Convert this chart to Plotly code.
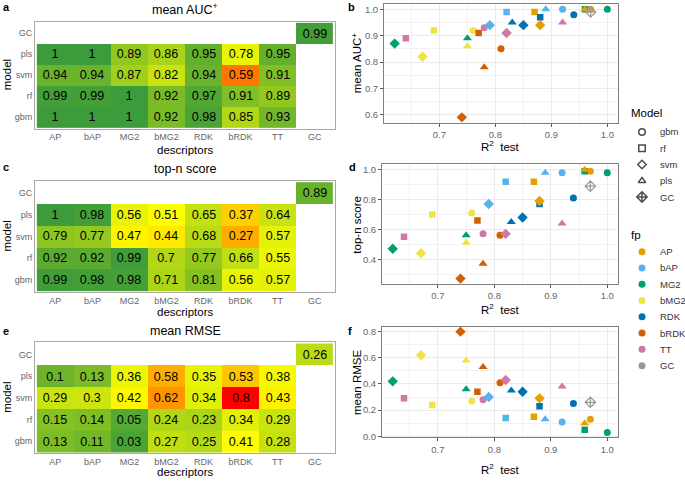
import plotly.graph_objects as go

# ---------------- data ----------------
descriptors = ["AP", "bAP", "MG2", "bMG2", "RDK", "bRDK", "TT", "GC"]
fps = ["AP", "bAP", "MG2", "bMG2", "RDK", "bRDK", "TT"]
models = ["gbm", "rf", "svm", "pls"]            # bottom -> top in heatmaps
model_rows = ["gbm", "rf", "svm", "pls", "GC"]
legend_models = ["gbm", "rf", "svm", "pls", "GC"]

# mean AUC+  (rows: gbm, rf, svm, pls ; cols: AP..TT)
auc_gbm = [1, 1, 1, 0.92, 0.98, 0.85, 0.93]
auc_rf = [0.99, 0.99, 1, 0.92, 0.97, 0.91, 0.89]
auc_svm = [0.94, 0.94, 0.87, 0.82, 0.94, 0.59, 0.91]
auc_pls = [1, 1, 0.89, 0.86, 0.95, 0.78, 0.95]
auc_gc = 0.99

# top-n score
top_gbm = [0.99, 0.98, 0.98, 0.71, 0.81, 0.56, 0.57]
top_rf = [0.92, 0.92, 0.99, 0.7, 0.77, 0.66, 0.55]
top_svm = [0.79, 0.77, 0.47, 0.44, 0.68, 0.27, 0.57]
top_pls = [1, 0.98, 0.56, 0.51, 0.65, 0.37, 0.64]
top_gc = 0.89

# mean RMSE
rmse_gbm = [0.13, 0.11, 0.03, 0.27, 0.25, 0.41, 0.28]
rmse_rf = [0.15, 0.14, 0.05, 0.24, 0.23, 0.34, 0.29]
rmse_svm = [0.29, 0.3, 0.42, 0.62, 0.34, 0.8, 0.43]
rmse_pls = [0.1, 0.13, 0.36, 0.58, 0.35, 0.53, 0.38]
rmse_gc = 0.26

# R2 test
r2_gbm = [0.97, 0.92, 1.0, 0.76, 0.94, 0.81, 0.78]
r2_rf = [0.87, 0.82, 0.96, 0.69, 0.88, 0.77, 0.64]
r2_svm = [0.88, 0.79, 0.62, 0.67, 0.85, 0.74, 0.82]
r2_pls = [0.96, 0.89, 0.75, 0.75, 0.83, 0.78, 0.92]
r2_gc = 0.97

fp_colors = {"AP": "#E69F00", "bAP": "#56B4E9", "MG2": "#009E73", "bMG2": "#F0E442",
             "RDK": "#0072B2", "bRDK": "#D55E00", "TT": "#CC79A7", "GC": "#999999"}
model_symbols = {"gbm": "circle", "rf": "square", "svm": "diamond", "pls": "triangle-up"}
legend_symbols = {"gbm": "circle-open", "rf": "square-open", "svm": "diamond-open",
                  "pls": "triangle-up-open", "GC": "diamond-cross-open"}

auc = {"gbm": auc_gbm, "rf": auc_rf, "svm": auc_svm, "pls": auc_pls}
top = {"gbm": top_gbm, "rf": top_rf, "svm": top_svm, "pls": top_pls}
rmse = {"gbm": rmse_gbm, "rf": rmse_rf, "svm": rmse_svm, "pls": rmse_pls}
r2 = {"gbm": r2_gbm, "rf": r2_rf, "svm": r2_svm, "pls": r2_pls}

W, H = 685, 482
FONT = "Liberation Sans, Arial, sans-serif"

def px_x(a, b):
    return [a / W, b / W]

def px_y(top_, bottom):
    return [1 - bottom / H, 1 - top_ / H]

scale = [[0, "#FF0000"], [0.25, "#FFA500"], [0.5, "#FFFF00"], [1, "#3C9B3A"]]
scale_rev = [[1 - p, c] for p, c in reversed(scale)]

def build_z(d, gc):
    z = []
    for m in models:
        z.append(list(d[m]) + [None])
    z.append([None] * 7 + [gc])
    return z

def fmt(v):
    return "" if v is None else f"{v:g}"

fig = go.Figure()

heat_specs = [
    ("x", "y", auc, auc_gc, 0.5, 1.0, scale),
    ("x3", "y3", top, top_gc, 0.0, 1.0, scale),
    ("x5", "y5", rmse, rmse_gc, 0.0, 0.8, scale_rev),
]
for xa, ya, d, gc, zmin, zmax, cs in heat_specs:
    z = build_z(d, gc)
    text = [[fmt(v) for v in row] for row in z]
    fig.add_trace(go.Heatmap(
        x=descriptors, y=model_rows, z=z, text=text, texttemplate="%{text}",
        textfont=dict(size=12.5, color="black", family=FONT),
        colorscale=cs, zmin=zmin, zmax=zmax, showscale=False,
        xaxis=xa, yaxis=ya, hoverinfo="skip", xgap=0, ygap=0))

scatter_specs = [("x2", "y2", auc, auc_gc), ("x4", "y4", top, top_gc), ("x6", "y6", rmse, rmse_gc)]
marker_sizes = {"gbm": 7, "rf": 6.5, "svm": 8, "pls": 8}
for xa, ya, d, gc in scatter_specs:
    for m in models:
        fig.add_trace(go.Scatter(
            x=r2[m], y=d[m], mode="markers", xaxis=xa, yaxis=ya, showlegend=False,
            marker=dict(symbol=model_symbols[m], size=marker_sizes[m],
                        color=[fp_colors[f] for f in fps], line=dict(width=0)),
            hoverinfo="skip"))
    fig.add_trace(go.Scatter(
        x=[r2_gc], y=[gc], mode="markers", xaxis=xa, yaxis=ya, showlegend=False,
        marker=dict(symbol="diamond-cross-open", size=8, color=fp_colors["GC"],
                    line=dict(width=1.2, color=fp_colors["GC"])),
        hoverinfo="skip"))

# ---- legend (drawn on a small side axis measured in pixels) ----
LEG_LEFT, LEG_TOP, LEG_BOTTOM = 620, 100, 380
LEG_KEY_X, LEG_TXT_X, LEG_TITLE_X = 642, 658, 629
MODEL_TITLE_Y, MODEL_Y0 = 113, 132.3
FP_TITLE_Y, FP_Y0 = 236, 253.3
STEP = 16.45
model_key_y = [MODEL_Y0 + i * STEP for i in range(len(legend_models))]
fp_key_y = [FP_Y0 + i * STEP for i in range(len(descriptors))]

fig.add_trace(go.Scatter(
    x=[LEG_KEY_X] * len(legend_models), y=model_key_y, mode="markers",
    xaxis="x7", yaxis="y7", showlegend=False, hoverinfo="skip",
    marker=dict(symbol=[legend_symbols[m] for m in legend_models],
                size=[6.5, 6.5, 6.5, 6.5, 8], color="black",
                line=dict(width=1.5, color="black"))))
fig.add_trace(go.Scatter(
    x=[LEG_KEY_X] * len(descriptors), y=fp_key_y, mode="markers",
    xaxis="x7", yaxis="y7", showlegend=False, hoverinfo="skip",
    marker=dict(symbol="circle", size=7, color=[fp_colors[f] for f in descriptors])))

heat_axis = dict(showgrid=False, zeroline=False, showline=True, mirror=True,
                 linecolor="#A8A8A8", linewidth=1, ticks="",
                 tickfont=dict(size=9, color="#666666", family=FONT))

scat_common = dict(showgrid=True, gridcolor="#EBEBEB", gridwidth=1, zeroline=False,
                   showline=True, mirror=True, linecolor="#7F7F7F", linewidth=1,
                   ticks="outside", ticklen=3, tickcolor="#555555",
                   tickfont=dict(size=9.5, color="#666666", family=FONT))

xt = [0.7, 0.8, 0.9, 1.0]
xminor = dict(tickvals=[0.65, 0.75, 0.85, 0.95], showgrid=True, gridcolor="#F2F2F2",
              gridwidth=0.6, ticks="")

layout = dict(
    width=W, height=H, margin=dict(l=0, r=0, t=0, b=0),
    paper_bgcolor="white", plot_bgcolor="rgba(0,0,0,0)", showlegend=False,
    font=dict(family=FONT, color="black"),
)
# heatmaps
for i, (ytop, ybot) in zip(["", "3", "5"], [(21, 129), (182, 294), (345, 457)]):
    layout["xaxis" + i] = dict(heat_axis, domain=px_x(35, 335), anchor="y" + i,
                               type="category", categoryorder="array",
                               categoryarray=descriptors, range=[-0.55, 7.55])
    layout["yaxis" + i] = dict(heat_axis, domain=px_y(ytop, ybot), anchor="x" + i,
                               type="category", categoryorder="array",
                               categoryarray=model_rows, range=[-0.55, 4.55])
# scatters
scat_pos = [("2", 384, 3, 123, [0.5695, 1.0205], [0.6, 0.7, 0.8, 0.9, 1.0], [0.65, 0.75, 0.85, 0.95]),
            ("4", 382, 165, 286, [0.2335, 1.0365], [0.4, 0.6, 0.8, 1.0], [0.3, 0.5, 0.7, 0.9]),
            ("6", 382, 329, 441, [-0.0085, 0.8385], [0.0, 0.2, 0.4, 0.6, 0.8], [0.1, 0.3, 0.5, 0.7])]
for i, xl, yt, yb, yr, yticks, yminor in scat_pos:
    layout["xaxis" + i] = dict(scat_common, domain=px_x(xl, 618), anchor="y" + i,
                               range=[0.601, 1.019], tickvals=xt,
                               ticktext=[f"{v:.1f}" for v in xt], minor=xminor)
    layout["yaxis" + i] = dict(scat_common, domain=px_y(yt, yb), anchor="x" + i,
                               range=yr, tickvals=yticks,
                               ticktext=[f"{v:.1f}" for v in yticks],
                               minor=dict(xminor, tickvals=yminor))
# pixel axis for the legend keys
layout["xaxis7"] = dict(domain=px_x(LEG_LEFT, W), range=[LEG_LEFT, W], visible=False,
                        fixedrange=True, anchor="y7")
layout["yaxis7"] = dict(domain=px_y(LEG_TOP, LEG_BOTTOM), range=[LEG_BOTTOM, LEG_TOP],
                        visible=False, fixedrange=True, anchor="x7")

ann = []
def A(text, x, y, size=12, rot=0, bold=False, xanchor="center", color="black"):
    ann.append(dict(text=("<b>%s</b>" % text) if bold else text, x=x / W, y=1 - y / H,
                    xref="paper", yref="paper", showarrow=False, textangle=rot,
                    font=dict(size=size, color=color, family=FONT),
                    xanchor=xanchor, yanchor="middle"))

# heatmap titles and axis titles
A("mean AUC<sup>+</sup>", 185, 8, 12.5)
A("top-n score", 185, 170, 12.5)
A("mean RMSE", 185, 333, 12.5)
for y in (151, 314, 475.5):
    A("descriptors", 185, y, 11.5)
for y in (75, 238, 401):
    A("model", 7, y, 11.5, rot=-90)
# scatter axis titles
A("R<sup>2</sup>  test", 500, 147, 11.5)
A("R<sup>2</sup>  test", 500, 311, 11.5)
A("R<sup>2</sup>  test", 500, 473, 11.5)
A("mean AUC<sup>+</sup>", 357, 63, 11.5, rot=-90)
A("top-n score", 357, 226, 11.5, rot=-90)
A("mean RMSE", 357, 385, 11.5, rot=-90)
# panel letters
for t, x, y in [("a", 1, 6), ("b", 346, 6), ("c", 1, 168), ("d", 347, 168), ("e", 1, 333), ("f", 346, 333)]:
    A(t, x, y, 11, bold=True, xanchor="left")
# legend titles and labels
A("Model", LEG_TITLE_X, MODEL_TITLE_Y, 11.5, xanchor="left")
A("fp", LEG_TITLE_X, FP_TITLE_Y, 11.5, xanchor="left")
for m, y in zip(legend_models, model_key_y):
    A(m, LEG_TXT_X, y, 9.5, xanchor="left", color="#333333")
for f, y in zip(descriptors, fp_key_y):
    A(f, LEG_TXT_X, y, 9.5, xanchor="left", color="#333333")
layout["annotations"] = ann

fig.update_layout(**layout)
fig.write_html("out.html", config={"displayModeBar": False},
               post_script="document.body.style.margin='0';")
